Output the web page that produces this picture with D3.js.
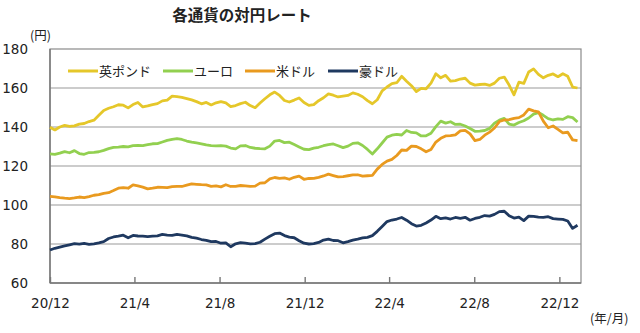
<!DOCTYPE html>
<html><head><meta charset="utf-8">
<script src="https://cdn.jsdelivr.net/npm/d3@7"></script>
<style>
html,body{margin:0;padding:0;background:#fff;}
svg{display:block;}
text{font-family:"DejaVu Sans","Noto Sans CJK JP",sans-serif;fill:#222;}
.jp{font-family:"Noto Sans CJK JP",sans-serif;}
</style></head>
<body>
<svg id="c" width="640" height="333"></svg>
<script>
// ---- data (weekly, starting 2020-12-01) ----
const startDate = "2020-12-01";
const gbp = [139.9,138.5,140.0,140.8,140.3,140.6,141.5,141.8,142.8,143.5,146.0,148.5,149.6,150.4,151.4,151.2,149.8,151.5,152.6,150.3,
150.8,151.5,152.0,153.4,153.8,155.8,155.6,155.2,154.6,153.9,153.0,151.9,152.6,151.3,152.4,153.0,152.4,150.5,151.0,152.0,
152.7,151.0,149.9,152.3,154.5,156.5,157.9,156.2,153.6,152.8,153.8,154.9,152.6,151.1,151.5,153.5,155.0,157.0,156.3,155.4,
155.8,156.2,157.5,156.8,155.5,153.5,151.9,154.0,158.5,160.5,162.2,162.7,166.0,163.5,161.2,158.2,159.8,159.6,162.5,167.3,
165.2,166.5,163.5,163.8,164.6,165.0,162.5,161.5,161.8,162.0,161.3,162.5,165.0,165.6,161.5,156.5,163.0,162.4,168.2,169.8,
167.0,165.2,166.5,167.2,165.8,167.3,166.0,160.5,160.0];
const eur = [126.2,126.0,126.6,127.4,126.8,127.9,126.4,126.0,126.9,127.0,127.3,128.0,128.9,129.6,129.7,130.0,129.8,130.4,130.6,130.4,
130.9,131.4,131.5,132.3,133.1,133.6,134.0,133.6,132.8,132.2,131.8,131.4,130.8,130.5,130.3,130.5,130.2,129.2,128.8,130.3,
130.5,129.5,129.1,128.9,128.8,130.2,132.8,133.1,132.0,132.2,131.0,129.8,128.6,128.4,129.2,129.6,130.4,131.0,131.3,130.4,
129.4,130.2,131.6,131.9,130.5,128.5,126.2,128.8,131.8,134.8,135.8,136.2,135.9,138.2,137.2,137.0,135.4,135.5,136.8,140.2,
143.0,142.0,142.7,141.3,141.4,140.5,139.2,137.8,137.9,138.2,139.3,142.0,143.5,144.4,141.5,141.0,142.3,143.2,144.6,146.6,
147.4,146.0,144.3,143.6,144.2,143.9,145.3,144.8,142.6];
const usd = [104.4,104.2,103.8,103.5,103.3,103.6,104.1,103.8,104.3,105.0,105.3,106.0,106.3,107.4,108.6,108.9,108.6,110.3,109.8,109.2,
108.3,108.6,109.1,109.0,108.9,109.4,109.6,109.5,110.2,110.8,110.6,110.4,110.3,109.6,109.8,109.3,110.4,109.5,109.6,110.0,
109.8,109.6,109.7,111.2,111.4,113.4,114.1,113.7,113.9,113.2,114.2,114.8,113.2,113.6,113.7,114.2,114.9,115.8,115.1,114.4,
114.6,115.0,115.4,115.5,114.8,115.0,115.2,118.4,120.8,122.5,123.4,125.4,128.2,128.0,130.2,130.0,128.8,127.3,128.5,132.3,
134.2,135.4,135.6,136.0,138.0,138.3,136.5,133.0,133.6,135.8,137.4,139.5,142.8,143.6,143.8,144.4,144.8,146.2,149.2,148.3,
147.8,143.0,139.6,140.5,138.8,137.0,137.3,133.4,133.0];
const aud = [76.9,77.8,78.4,79.0,79.6,80.2,79.9,80.3,79.8,80.1,80.6,81.2,82.8,83.6,84.0,84.5,83.2,84.4,84.1,84.0,
83.8,84.0,84.2,84.9,84.6,84.4,84.9,84.6,84.2,83.4,83.0,82.3,81.9,81.2,81.3,80.4,80.6,78.6,80.1,80.7,
80.4,80.1,80.2,80.9,82.5,84.0,85.3,85.6,84.3,83.5,83.2,81.7,80.4,80.0,80.2,80.8,82.0,82.5,81.8,81.7,
80.6,81.2,82.0,82.5,83.1,83.4,84.3,86.5,89.0,91.5,92.3,92.8,93.6,92.2,90.4,89.2,89.6,90.8,92.3,94.2,
93.0,93.4,92.8,93.6,93.2,93.7,92.2,93.1,93.7,94.6,94.3,95.2,96.6,96.8,94.5,93.3,93.8,92.0,94.3,94.2,
93.8,93.7,94.0,93.0,92.8,92.6,91.8,88.0,89.6];
const seriesNames = ["英ポンド","ユーロ","米ドル","豪ドル"];
const seriesColors = ["#E5C72A","#92D050","#E99A1F","#1F3960"];
const yTicks = [60,80,100,120,140,160,180];
const xTickDates = ["2020-12-01","2021-04-01","2021-08-01","2021-12-01","2022-04-01","2022-08-01","2022-12-01"];
const xTickLabels = ["20/12","21/4","21/8","21/12","22/4","22/8","22/12"];
const title = "各通貨の対円レート";

// ---- chart ----
const svg = d3.select("#c");
const parse = d3.timeParse("%Y-%m-%d");
const t0 = parse(startDate);
const dates = gbp.map((_, i) => d3.timeDay.offset(t0, 7 * i));
const L = 50, R = 581, T = 49, B = 283;
const x = d3.scaleTime().domain([parse("2020-12-01"), parse("2023-01-01")]).range([L, R]);
const y = d3.scaleLinear().domain([60, 180]).range([B, T]);

// gridlines
svg.append("g").selectAll("line").data(yTicks.filter(v => v > 60 && v < 180)).join("line")
  .attr("x1", L).attr("x2", R).attr("y1", d => y(d)).attr("y2", d => y(d))
  .attr("stroke", "#9a9a9a").attr("stroke-width", 1.2);
// frame
svg.append("rect").attr("x", L).attr("y", T).attr("width", R - L).attr("height", B - T)
  .attr("fill", "none").attr("stroke", "#8a8a8a").attr("stroke-width", 1.2);
svg.append("line").attr("x1", L).attr("x2", L).attr("y1", T).attr("y2", B).attr("stroke", "#777").attr("stroke-width", 1.4);
svg.append("line").attr("x1", L).attr("x2", R).attr("y1", B).attr("y2", B).attr("stroke", "#777").attr("stroke-width", 1.4);

// y axis labels
const yAxis = d3.axisLeft(y).tickValues(yTicks).tickSize(0).tickPadding(22);
const gy = svg.append("g").attr("transform", `translate(${L},0)`).call(yAxis);
gy.select(".domain").remove();
gy.selectAll("text").attr("font-size", 13.5).attr("font-family", "DejaVu Sans").attr("fill", "#222");

// x axis
const xAxis = d3.axisBottom(x).tickValues(xTickDates.map(parse))
  .tickFormat((d, i) => xTickLabels[i]).tickSizeInner(-6).tickSizeOuter(0).tickPadding(15);
const gx = svg.append("g").attr("transform", `translate(0,${B})`).call(xAxis);
gx.select(".domain").remove();
gx.selectAll("line").attr("stroke", "#777").attr("stroke-width", 1.4);
gx.selectAll("text").attr("font-size", 13.5).attr("font-family", "DejaVu Sans").attr("fill", "#222");

// lines
const line = d3.line().x((d, i) => x(dates[i])).y(d => y(d));
[gbp, eur, usd, aud].forEach((s, k) => {
  svg.append("path").datum(s).attr("d", line).attr("fill", "none")
    .attr("stroke", seriesColors[k]).attr("stroke-width", 2.8).attr("stroke-linejoin", "round");
});

// legend
const legX = [68, 163, 245, 328];
const lg = svg.append("g");
seriesNames.forEach((n, k) => {
  lg.append("line").attr("x1", legX[k]).attr("x2", legX[k] + 30).attr("y1", 71).attr("y2", 71)
    .attr("stroke", seriesColors[k]).attr("stroke-width", 3);
  lg.append("text").attr("class", "jp").attr("x", legX[k] + 31).attr("y", 71).attr("dy", "0.35em")
    .attr("font-size", 13).text(n);
});

// title & unit labels
svg.append("text").attr("class", "jp").attr("x", 242).attr("y", 15).attr("dy", "0.36em")
  .attr("text-anchor", "middle").attr("font-size", 15.5).attr("font-weight", "bold").attr("fill", "#111").text(title);
svg.append("text").attr("class", "jp").attr("x", 30).attr("y", 35).attr("dy", "0.36em")
  .attr("font-size", 12.5).text("(円)");
svg.append("text").attr("class", "jp").attr("x", 590).attr("y", 318).attr("dy", "0.36em")
  .attr("font-size", 12.5).text("(年/月)");
</script>
</body></html>
